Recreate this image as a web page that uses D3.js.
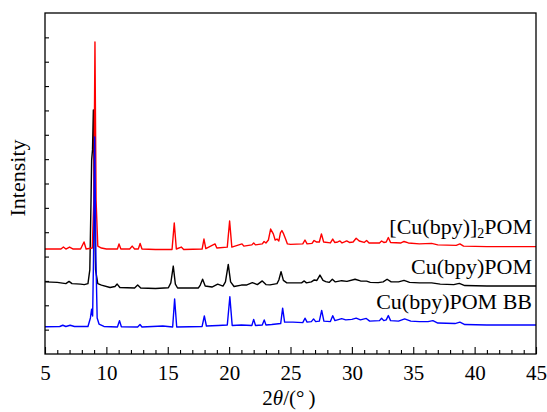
<!DOCTYPE html>
<html>
<head>
<meta charset="utf-8">
<script src="https://cdn.jsdelivr.net/npm/d3@7"></script>
<style>
  body { margin: 0; background: #fff; }
</style>
</head>
<body>
<div class="svg-container"></div>
<script>
// [2theta, intensity]
let redSeries = [
  [5.0,431],[6.3,431],[6.5,439],[6.7,431],[7.0,439],[7.3,431],[7.9,431],[8.18,460],[8.35,431],
  [8.85,435],[8.98,632],[9.07,1281],[9.16,632],[9.3,443],[9.6,435],[10.0,431],[10.9,431],[11.03,452],
  [11.18,431],[11.9,431],[12.1,443],[12.3,431],[12.6,431],[12.75,454],[12.9,431],[14.0,429],[15.35,429],
  [15.53,538],[15.7,431],[16.1,439],[16.3,429],[17.8,431],[17.95,472],[18.1,433],[18.85,452],[19.0,435],
  [19.85,439],[20.04,546],[20.22,439],[21.05,452],[21.2,443],[21.85,448],[22.0,456],[22.15,448],
  [22.7,452],[22.85,462],[23.0,456],[23.2,468],[23.38,513],[23.6,493],[23.75,468],[23.9,472],[24.05,464],
  [24.18,497],[24.3,507],[24.44,493],[24.6,472],[24.75,452],[25.0,450],[26.0,452],[26.18,468],[26.35,452],
  [26.75,454],[26.92,466],[27.1,460],[27.35,460],[27.52,493],[27.7,460],[28.25,456],[28.44,472],[28.6,458],
  [28.85,460],[29.03,464],[29.2,456],[29.4,460],[29.58,464],[29.8,458],[30.1,460],[30.35,475],[30.6,464],
  [31.0,458],[31.2,466],[31.4,456],[32.25,456],[32.42,464],[32.6,458],[32.8,460],[32.97,478],[33.15,458],
  [34.0,456],[34.25,462],[34.6,456],[35.5,452],[36.5,454],[37.0,448],[38.5,446],[38.8,452],[39.1,443],
  [41.0,441],[45.0,441]
];

let blackSeries = [
  [5.0,296],[6.0,294],[6.7,289],[6.96,298],[7.2,289],[7.9,287],[8.2,285],[8.5,289],[8.65,345],[8.75,632],
  [8.8,797],[8.87,838],[8.94,1002],[9.02,632],[9.12,345],[9.3,289],[9.6,283],[10.3,273],[10.7,277],
  [10.88,287],[11.1,273],[12.3,271],[12.55,283],[12.8,271],[14.0,269],[15.05,272],[15.25,292],[15.45,361],
  [15.62,287],[15.8,271],[17.5,271],[17.65,283],[17.84,307],[18.05,279],[18.6,275],[19.07,287],[19.5,279],
  [19.7,296],[19.93,368],[20.12,296],[20.4,277],[21.0,283],[21.4,283],[21.89,293],[22.3,285],[22.7,300],
  [23.0,285],[23.33,284],[23.9,289],[24.05,304],[24.23,338],[24.42,302],[24.7,292],[25.5,292],[25.9,292],
  [26.12,300],[26.3,292],[26.7,296],[26.94,304],[27.15,302],[27.4,324],[27.65,302],[27.87,297],[28.15,294],
  [28.41,307],[28.65,296],[29.17,301],[29.6,298],[30.26,307],[30.7,300],[31.2,299],[31.5,294],[32.15,293],
  [32.55,296],[32.87,307],[33.2,296],[33.8,296],[34.25,302],[34.7,294],[35.5,292],[36.5,292],[37.2,287],
  [38.3,285],[38.75,290],[39.2,281],[41.0,279],[45.0,279]
];

let blueSeries = [
  [5.0,112],[6.2,113],[6.45,118],[6.7,113],[7.05,118],[7.4,113],[8.5,113],[8.7,148],[8.8,184],[8.88,156],
  [8.95,386],[9.05,891],[9.15,386],[9.25,148],[9.4,123],[9.8,113],[10.9,111],[11.07,137],[11.22,112],
  [12.55,111],[12.74,121],[12.9,111],[14.6,115],[15.4,111],[15.56,226],[15.73,111],[17.8,113],[17.98,156],
  [18.15,115],[19.1,117],[19.85,119],[20.06,235],[20.25,117],[21.0,119],[21.85,117],[22.0,142],[22.15,117],
  [22.7,119],[22.86,140],[23.0,119],[23.47,121],[24.2,125],[24.36,188],[24.52,131],[25.2,131],[26.0,129],
  [26.18,147],[26.35,131],[26.7,133],[26.88,144],[27.05,133],[27.35,135],[27.54,179],[27.72,135],[28.25,133],
  [28.44,157],[28.62,137],[29.17,145],[29.5,140],[30.0,142],[30.35,147],[30.7,140],[31.17,146],[31.45,135],
  [32.25,137],[32.42,147],[32.6,137],[32.8,140],[32.97,158],[33.15,137],[33.8,135],[34.3,144],[34.8,135],
  [35.5,133],[36.2,133],[36.6,137],[37.0,127],[38.4,125],[38.8,131],[39.2,121],[41.0,119],[45.0,119]
];

let seriesNames = ["[Cu(bpy)]2POM", "Cu(bpy)POM", "Cu(bpy)POM BB"];
let xMajorTicks = [5, 10, 15, 20, 25, 30, 35, 40, 45];
let yTicks = [100, 200, 300, 400, 500, 600, 700, 800, 900, 1000, 1100, 1200, 1300];

const serif = "'Liberation Serif', 'Times New Roman', serif";

let width = 547,
  height = 412,
  plotLeft = 45, plotRight = 536, plotTop = 13, plotBottom = 354;

let svg = d3.select(".svg-container").append("svg")
  .attr("width", width)
  .attr("height", height);

const xScale = d3.scaleLinear().domain([5, 45]).range([plotLeft, plotRight]);
const yScale = d3.scaleLinear().domain([0, 1400]).range([plotBottom, plotTop]);

// minor x ticks, every degree
svg.append("g")
  .attr("transform", "translate(0," + plotBottom + ")")
  .call(d3.axisBottom(xScale)
    .tickValues(d3.range(5, 46, 1).filter(d => d % 5 != 0))
    .tickSizeInner(-4).tickSizeOuter(0).tickFormat(""))
  .call(g => g.select(".domain").remove());

// major x ticks with labels
svg.append("g")
  .attr("transform", "translate(0," + plotBottom + ")")
  .call(d3.axisBottom(xScale)
    .tickValues(xMajorTicks)
    .tickSizeInner(-7).tickSizeOuter(0).tickPadding(11)
    .tickFormat(d3.format("d")))
  .attr("font-family", serif)
  .attr("font-size", 21)
  .call(g => g.select(".domain").remove())
  .call(g => g.selectAll("text").attr("fill", "#000"));

// y ticks, no labels
svg.append("g")
  .attr("transform", "translate(" + plotLeft + ",0)")
  .call(d3.axisLeft(yScale)
    .tickValues(yTicks)
    .tickSizeInner(-4).tickSizeOuter(0).tickFormat(""))
  .call(g => g.select(".domain").remove());

svg.selectAll(".tick line").attr("stroke", "#000").attr("stroke-width", 1.1);

const line = d3.line()
  .x(d => xScale(d[0]))
  .y(d => yScale(d[1]));

let drawOrder = [
  { data: blackSeries, color: "#000000" },
  { data: redSeries, color: "#ff0000" },
  { data: blueSeries, color: "#0000ff" }
];

drawOrder.forEach(s => {
  svg.append("path")
    .datum(s.data)
    .attr("d", line)
    .attr("fill", "none")
    .attr("stroke", s.color)
    .attr("stroke-width", 1.4)
    .attr("stroke-linejoin", "round");
});

// frame
svg.append("rect")
  .attr("x", plotLeft)
  .attr("y", plotTop)
  .attr("width", plotRight - plotLeft)
  .attr("height", plotBottom - plotTop)
  .attr("fill", "none")
  .attr("stroke", "#000")
  .attr("stroke-width", 1.3);

// series labels
let labelSeries = [redSeries, blackSeries, blueSeries];
let labelLift = [12.5, 12, 16];
seriesNames.forEach((name, i) => {
  let last = labelSeries[i][labelSeries[i].length - 1];
  let t = svg.append("text")
    .attr("x", 532)
    .attr("y", yScale(last[1]) - labelLift[i])
    .attr("text-anchor", "end")
    .attr("font-family", serif)
    .attr("font-size", 22);
  let m = name.match(/^(\[.*\])2(.*)$/);
  if (m) {
    t.append("tspan").text(m[1]);
    t.append("tspan").text("2").attr("font-size", 14).attr("dy", 4);
    t.append("tspan").text(m[2]).attr("dy", -4);
  } else {
    t.text(name);
  }
});

// axis titles
const xLabel = svg.append("text")
  .attr("x", 289)
  .attr("y", 405)
  .attr("text-anchor", "middle")
  .attr("font-family", serif)
  .attr("font-size", 21);
xLabel.append("tspan").text("2");
xLabel.append("tspan").text("\u03b8").attr("font-style", "italic");
xLabel.append("tspan").text("/(\u00b0\u2009)");

const yLabel = svg.append("text")
  .text("Intensity")
  .attr("transform", "translate(25,178) rotate(-90)")
  .attr("text-anchor", "middle")
  .attr("font-family", serif)
  .attr("font-size", 22);
</script>
</body>
</html>
